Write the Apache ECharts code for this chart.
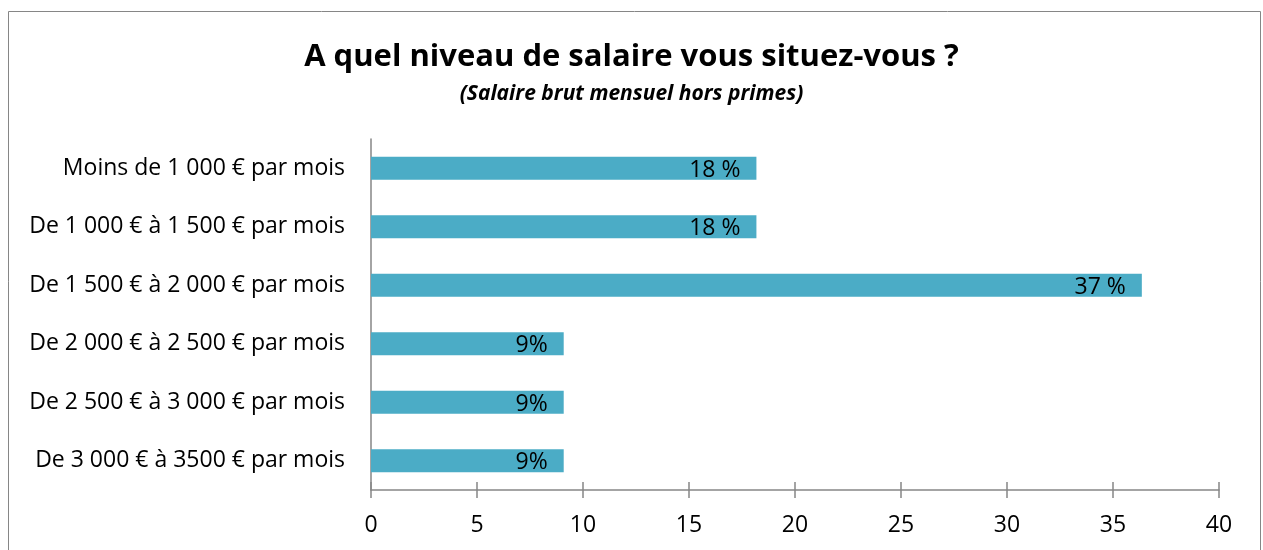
<!DOCTYPE html>
<html>
<head>
<meta charset="utf-8">
<script src="https://cdn.jsdelivr.net/npm/echarts@6/dist/echarts.min.js"></script>
<style>
  html, body { margin: 0; padding: 0; background: #fff; }
  #main { width: 1263px; height: 550px; }
</style>
</head>
<body>
<div id="main"></div>
<script>
// tranches de salaire (du haut vers le bas)
var categories = [
    'Moins de 1 000 € par mois',
    'De 1 000 € à 1 500 € par mois',
    'De 1 500 € à 2 000 € par mois',
    'De 2 000 € à 2 500 € par mois',
    'De 2 500 € à 3 000 € par mois',
    'De 3 000 € à 3500 € par mois'
];
var values = [18.18, 18.18, 36.36, 9.09, 9.09, 9.09];
var valueLabels = ['18 %', '18 %', '37 %', '9%', '9%', '9%'];
var xTicks = [0, 5, 10, 15, 20, 25, 30, 35, 40];

var font = '"Open Sans", Lato, sans-serif';
var axisGray = '#868686';

var myChart = echarts.init(document.getElementById('main'));

var option = {
    animation: false,
    textStyle: { fontFamily: font },
    title: {
        text: 'A quel niveau de salaire vous situez-vous ?',
        subtext: '(Salaire brut mensuel hors primes)',
        left: 'center',
        top: 37,
        itemGap: 11,
        textStyle: { fontFamily: font, fontSize: 31, fontWeight: 'bold', color: '#000' },
        subtextStyle: { fontFamily: font, fontSize: 21, fontWeight: 'bold', fontStyle: 'italic', color: '#000' }
    },
    graphic: [{
        type: 'rect',
        shape: { x: 8.5, y: 11.5, width: 1252, height: 600 },
        style: { fill: 'none', stroke: axisGray, lineWidth: 1 },
        silent: true
    }],
    grid: { left: 371, right: 44, top: 139, bottom: 60 },
    xAxis: [{
        type: 'value',
        min: xTicks[0],
        max: xTicks[xTicks.length - 1],
        interval: 5,
        axisLine: { show: true, lineStyle: { color: axisGray, width: 1.5 } },
        axisTick: { show: true, length: 8, lineStyle: { color: axisGray, width: 1.5 } },
        axisLabel: { fontSize: 23, color: '#000', margin: 24, fontFamily: font },
        splitLine: { show: false }
    }, {
        type: 'value',
        position: 'bottom',
        min: xTicks[0],
        max: xTicks[xTicks.length - 1],
        interval: 5,
        axisLine: { show: false },
        axisTick: { show: true, inside: true, length: 8, lineStyle: { color: axisGray, width: 1.5 } },
        axisLabel: { show: false },
        splitLine: { show: false }
    }],
    yAxis: {
        type: 'category',
        inverse: true,
        data: categories,
        axisLine: { show: true, lineStyle: { color: axisGray, width: 1.5 } },
        axisTick: { show: false },
        axisLabel: { fontSize: 23, color: '#000', margin: 26, fontFamily: font, padding: [3, 0, 0, 0] }
    },
    series: [{
        type: 'bar',
        data: values,
        barWidth: 23,
        itemStyle: { color: '#4BACC6' },
        label: {
            show: true,
            position: 'insideRight',
            distance: 16,
            offset: [0, 2],
            fontSize: 23,
            color: '#000',
            fontFamily: font,
            formatter: function(p) { return valueLabels[p.dataIndex]; }
        }
    }]
};

myChart.setOption(option);
</script>
</body>
</html>
